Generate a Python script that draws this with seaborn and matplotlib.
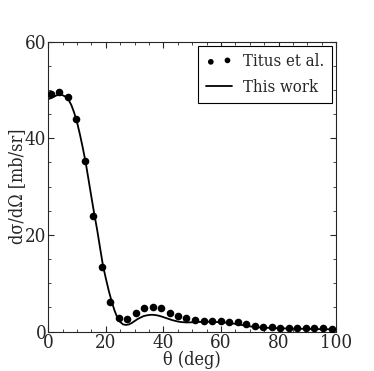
import numpy as np
import pandas as pd
import seaborn as sns
import matplotlib
matplotlib.use("Agg")
import matplotlib.pyplot as plt
from matplotlib.ticker import MultipleLocator

# Titus et al. data points
titus_theta = [0.8, 3.8, 6.8, 9.7, 12.7, 15.7, 18.6, 21.6, 24.5, 27.5, 30.4,
               33.4, 36.3, 39.3, 42.2, 45.2, 48.0, 50.9, 54.0, 57.0, 59.9,
               62.8, 65.8, 68.8, 71.7, 74.7, 77.6, 80.5, 83.5, 86.5, 89.4,
               92.4, 95.3, 98.4]
titus_xs = [49.1, 49.6, 48.5, 44.0, 35.3, 24.0, 13.4, 6.1, 2.8, 2.6, 3.8,
            4.8, 5.2, 4.8, 3.9, 3.2, 2.8, 2.4, 2.3, 2.2, 2.2, 2.1, 1.9, 1.5,
            1.2, 1.0, 0.9, 0.8, 0.8, 0.8, 0.75, 0.75, 0.7, 0.6]

# This work (calculation)
calc_theta = [0, 1, 2, 3, 4, 5, 6, 7, 8, 9, 10, 11, 12, 13, 14, 15, 16, 17,
              18, 19, 20, 21, 22, 23, 24, 25, 26, 27, 28, 29, 30, 31, 32, 33,
              34, 35, 36, 37, 38, 39, 40, 41, 42, 43, 44, 45, 46, 47, 48, 50,
              52, 54, 56, 58, 60, 62, 64, 66, 68, 70, 72, 74, 76, 78, 80, 84,
              88, 92, 96, 100]
calc_xs = [48.1, 48.3, 48.6, 48.9, 49.0, 48.9, 48.6, 48.0, 46.9, 45.3, 43.3,
           40.8, 38.0, 35.0, 31.4, 27.8, 24.3, 21.0, 17.3, 13.7, 11.0, 8.5,
           6.3, 4.4, 2.9, 2.0, 1.5, 1.4, 1.5, 1.8, 2.2, 2.6, 2.9, 3.2, 3.35,
           3.45, 3.5, 3.45, 3.35, 3.2, 3.0, 2.8, 2.6, 2.4, 2.25, 2.1, 2.0,
           1.95, 1.9, 1.95, 2.0, 2.05, 2.05, 2.0, 1.95, 1.85, 1.7, 1.5, 1.3,
           1.1, 0.95, 0.85, 0.8, 0.75, 0.7, 0.65, 0.6, 0.55, 0.5, 0.5]

titus_df = pd.DataFrame({"theta": titus_theta, "xs": titus_xs})
calc_df = pd.DataFrame({"theta": calc_theta, "xs": calc_xs})

sns.set_style("ticks")
plt.rcParams["font.family"] = ["DejaVu Serif", "DejaVu Sans"]
plt.rcParams["font.stretch"] = "condensed"

fig = plt.figure(figsize=(3.74, 3.71), dpi=100)
ax = fig.add_axes([0.129, 0.106, 0.770, 0.782])

sns.lineplot(data=calc_df, x="theta", y="xs", ax=ax, color="black",
             linewidth=1.3, label="This work", zorder=2)
sns.scatterplot(data=titus_df, x="theta", y="xs", ax=ax, color="black",
                s=30, edgecolor="black", linewidth=0, label="Titus et al.",
                zorder=3)

ax.set_xlim(0, 100)
ax.set_ylim(0, 60)
ax.xaxis.set_major_locator(MultipleLocator(20))
ax.xaxis.set_minor_locator(MultipleLocator(5))
ax.yaxis.set_major_locator(MultipleLocator(20))
ax.yaxis.set_minor_locator(MultipleLocator(5))
ax.tick_params(which="both", direction="in", top=True, right=True,
               labelsize=13.5, pad=1.5)
ax.tick_params(which="major", length=4, width=0.8)
ax.tick_params(which="minor", length=2, width=0.6)
for sp in ax.spines.values():
    sp.set_linewidth(0.8)

ax.set_xlabel("θ (deg)", fontsize=13, labelpad=-1)
ax.set_ylabel("dσ/dΩ [mb/sr]", fontsize=13, labelpad=-1)

handles, labels = ax.get_legend_handles_labels()
order = [labels.index("Titus et al."), labels.index("This work")]
leg = ax.legend([handles[i] for i in order], [labels[i] for i in order],
                loc="upper right", fontsize=12, frameon=True, fancybox=False,
                edgecolor="black", framealpha=1, borderaxespad=0.25,
                handlelength=1.6, handletextpad=0.65, borderpad=0.45,
                labelspacing=0.5, scatterpoints=2, markerscale=0.75)
leg.get_frame().set_linewidth(0.8)

fig.savefig("out.png", dpi=100)
